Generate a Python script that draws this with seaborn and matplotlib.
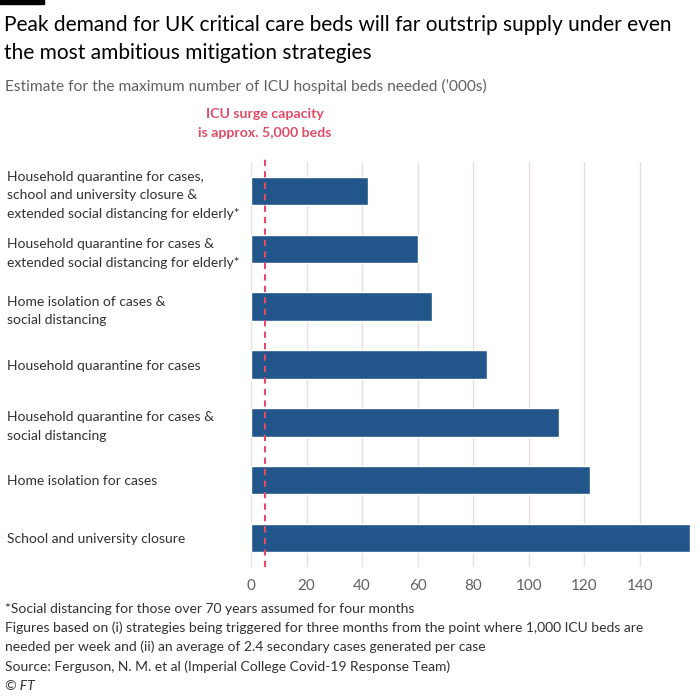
import matplotlib
matplotlib.use("Agg")
import matplotlib.pyplot as plt
import seaborn as sns
import pandas as pd
from matplotlib.patches import Rectangle

strategies = [
    "Household quarantine for cases,\nschool and university closure &\nextended social distancing for elderly*",
    "Household quarantine for cases &\nextended social distancing for elderly*",
    "Home isolation of cases &\nsocial distancing",
    "Household quarantine for cases",
    "Household quarantine for cases &\nsocial distancing",
    "Home isolation for cases",
    "School and university closure",
]
beds_thousands = [42, 60, 65, 85, 111, 122, 158]
surge_capacity = 5
x_ticks = [0, 20, 40, 60, 80, 100, 120, 140]

title = "Peak demand for UK critical care beds will far outstrip supply under even\nthe most ambitious mitigation strategies"
subtitle = "Estimate for the maximum number of ICU hospital beds needed (\u2019000s)"
annotation = "ICU surge capacity\nis approx. 5,000 beds"
footnotes = [
    "*Social distancing for those over 70 years assumed for four months",
    "Figures based on (i) strategies being triggered for three months from the point where 1,000 ICU beds are",
    "needed per week and (ii) an average of 2.4 secondary cases generated per case",
    "Source: Ferguson, N. M. et al (Imperial College Covid-19 Response Team)",
]

sns.set_theme(style="white")
plt.rcParams["font.family"] = ["Lato", "DejaVu Sans"]

BLUE = "#22568b"
RED = "#e04c66"
GRID = "#e6dfdc"
TEXT = "#33302e"
GREY = "#66605c"

df = pd.DataFrame({"strategy": strategies, "beds": beds_thousands})

fig = plt.figure(figsize=(7, 7), dpi=100, facecolor="white")
W, H = 700, 700
left, right, top, bottom = 251, 690, 162, 567
ax = fig.add_axes([left / W, 1 - bottom / H, (right - left) / W, (bottom - top) / H])
ax.set_facecolor("white")

sns.barplot(data=df, x="beds", y="strategy", orient="h", color=BLUE,
            saturation=1, width=0.49, ax=ax, zorder=3)

ax.set_xlim(0, 158)
ax.set_ylim(6.5, -0.5)
ax.set_xticks(x_ticks)
ax.set_xticklabels([str(t) for t in x_ticks])
ax.xaxis.grid(True, color=GRID, linewidth=1, zorder=0)
ax.yaxis.grid(False)
for s in ax.spines.values():
    s.set_visible(False)
ax.set_xlabel("")
ax.set_ylabel("")
ax.tick_params(axis="x", length=0, pad=9, labelsize=11, labelcolor=GREY)
ax.tick_params(axis="y", length=0, pad=176, labelsize=10, labelcolor=TEXT)
for lbl in ax.get_yticklabels():
    lbl.set_horizontalalignment("left")
    lbl.set_linespacing(1.68)

ax.axvline(surge_capacity, ymin=0, ymax=1.012, color=RED, linestyle=(0, (3, 2.5)),
           linewidth=1.5, zorder=4, clip_on=False)

ax.annotate(annotation, xy=(surge_capacity, 1), xycoords=("data", "axes fraction"),
            xytext=(0, 27.5), textcoords="offset points", ha="center", va="center",
            color=RED, fontsize=10.2, fontweight="bold", linespacing=1.7)

fig.patches.append(Rectangle((0, 1 - 4 / H), 44 / W, 4 / H, transform=fig.transFigure,
                             color="black"))
fig.text(4 / W, 1 - 39 / H, title, ha="left", va="center", fontsize=15,
         color="black", linespacing=1.56)
fig.text(5 / W, 1 - 86 / H, subtitle, ha="left", va="center", fontsize=11.2,
         color=GREY)

ys = [609, 628, 647, 667]
for y, t in zip(ys, footnotes):
    fig.text(5 / W, 1 - y / H, t, ha="left", va="center", fontsize=10, color=TEXT)
fig.text(5 / W, 1 - 686 / H, "\u00a9 FT", ha="left", va="center", fontsize=10,
         color=TEXT, style="italic")

fig.savefig("out.png", dpi=100, facecolor="white")
